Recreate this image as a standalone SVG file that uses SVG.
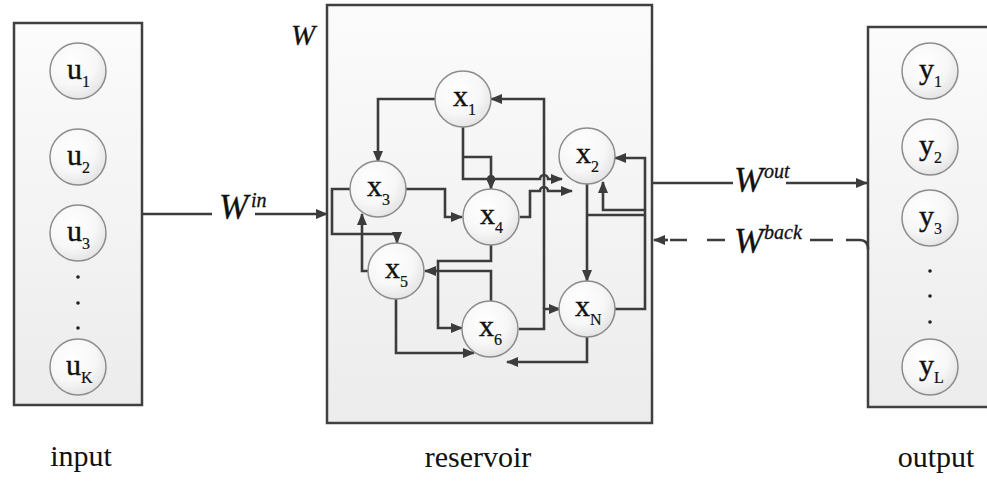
<svg xmlns="http://www.w3.org/2000/svg" width="987" height="499" viewBox="0 0 987 499">
<defs>
<linearGradient id="boxg" x1="0" y1="0" x2="0" y2="1">
<stop offset="0" stop-color="#fbfbfb"/>
<stop offset="1" stop-color="#ececec"/>
</linearGradient>
<radialGradient id="nodeg" cx="0.4" cy="0.35" r="0.7">
<stop offset="0" stop-color="#ffffff"/>
<stop offset="0.6" stop-color="#f7f7f7"/>
<stop offset="1" stop-color="#e2e2e2"/>
</radialGradient>
<marker id="ah" markerUnits="userSpaceOnUse" markerWidth="12" markerHeight="10" refX="11" refY="5" orient="auto">
<path d="M0,0 L12,5 L0,10 z" fill="#3c3c3c"/>
</marker>
</defs>
<style>
.box{fill:url(#boxg);stroke:#404040;stroke-width:2.5}
.node circle{fill:url(#nodeg);stroke:#8c8c8c;stroke-width:1.5}
.lbl{font-family:"Liberation Serif","Times New Roman",serif;font-size:30px;fill:#111;stroke:#111;stroke-width:0.4}
.sub{font-size:16px;stroke-width:0.2}
.w{font-family:"Liberation Serif","Times New Roman",serif;font-style:italic;font-size:35px;fill:#111;stroke:#111;stroke-width:0.3}
.sup{font-size:20px}
.cap{font-family:"Liberation Serif","Times New Roman",serif;font-size:30px;fill:#111;text-anchor:middle}
.c{fill:none;stroke:#3c3c3c;stroke-width:2.6}
.a{marker-end:url(#ah)}
.dot{fill:#222}
</style>
<rect width="987" height="499" fill="#ffffff"/>

<g id="input-layer">
<rect class="box" x="14" y="23" width="128" height="382"/>
<circle class="dot" cx="78" cy="277" r="1.8"/>
<circle class="dot" cx="78" cy="303" r="1.8"/>
<circle class="dot" cx="78" cy="328" r="1.8"/>
<text class="cap" x="81" y="466">input</text>
</g>
<g id="u1" class="node"><circle cx="78" cy="71" r="28"/><text class="lbl" x="67" y="79">u<tspan class="sub" dy="8">1</tspan></text></g>
<g id="u2" class="node"><circle cx="78" cy="157" r="28"/><text class="lbl" x="67" y="165">u<tspan class="sub" dy="8">2</tspan></text></g>
<g id="u3" class="node"><circle cx="78" cy="233" r="28"/><text class="lbl" x="67" y="241">u<tspan class="sub" dy="8">3</tspan></text></g>
<g id="uK" class="node"><circle cx="78" cy="367" r="28"/><text class="lbl" x="66" y="375">u<tspan class="sub" dy="8">K</tspan></text></g>

<g id="reservoir">
<rect class="box" x="327" y="5" width="325" height="418"/>
<text class="w" x="291" y="45" style="font-size:29px">W</text>
<text class="cap" x="478" y="467">reservoir</text>
</g>

<g id="output-layer">
<rect class="box" x="868" y="27" width="130" height="380"/>
<circle class="dot" cx="930" cy="271" r="1.8"/>
<circle class="dot" cx="930" cy="296" r="1.8"/>
<circle class="dot" cx="930" cy="322" r="1.8"/>
<text class="cap" x="936" y="467">output</text>
</g>
<g id="y1" class="node"><circle cx="930" cy="71" r="28"/><text class="lbl" x="919" y="79">y<tspan class="sub" dy="8">1</tspan></text></g>
<g id="y2" class="node"><circle cx="930" cy="147" r="28"/><text class="lbl" x="919" y="155">y<tspan class="sub" dy="8">2</tspan></text></g>
<g id="y3" class="node"><circle cx="930" cy="218" r="28"/><text class="lbl" x="919" y="226">y<tspan class="sub" dy="8">3</tspan></text></g>
<g id="yL" class="node"><circle cx="930" cy="367" r="28"/><text class="lbl" x="919" y="375">y<tspan class="sub" dy="8">L</tspan></text></g>

<g id="connectors">
<path class="c a" d="M435,99 H378 V162"/>
<path class="c a" d="M519,329 H544 V309 H560"/>
<path class="c a" d="M544,309 V99 H491"/>
<path class="c a" d="M463,127 V179 H540 a4,4 0 0 1 8,0 H562"/>
<path class="c a" d="M463,157 H491 V189"/>
<circle cx="491" cy="179" r="4" fill="#3c3c3c"/>
<path class="c a" d="M406,189 H445 V217 H462"/>
<path class="c a" d="M520,217 H530 V191 H540 a4,4 0 0 1 8,0 H572"/>
<path class="c a" d="M350,189 H332 V234 H397 V243"/>
<path class="c a" d="M368,271 H362 V214"/>
<path class="c a" d="M491,245 V261 H438 V328 H462"/>
<path class="c a" d="M491,301 V271 H425"/>
<path class="c a" d="M396,299 V353 H474"/>
<path class="c a" d="M587,337 V362 H507"/>
<path class="c a" d="M587,184 V281"/>
<path class="c a" d="M615,309 H645 V158 H615"/>
<path class="c" d="M587,215 H645"/>
<path class="c a" d="M645,210 H603 V182"/>
<path class="c" d="M142,214 H212"/>
<path class="c a" d="M255,214 H327"/>
<text class="w" x="219" y="219">W<tspan class="sup" x="251" y="207">in</tspan></text>
<path class="c" d="M652,183 H733"/>
<path class="c a" d="M786,183 H867"/>
<text class="w" x="734" y="192">W<tspan class="sup" x="764" y="178">out</tspan></text>
<path class="c" d="M868,249 Q868,240 860,240 H846 M833,240 H810 M725,240 H707 M687,240 H670"/>
<path class="c a" d="M668,240 H654"/>
<text class="w" x="734" y="253">W<tspan class="sup" x="764" y="239">back</tspan></text>
</g>

<g id="x1" class="node"><circle cx="463" cy="99" r="28"/><text class="lbl" x="453" y="106">x<tspan class="sub" dy="9">1</tspan></text></g>
<g id="x2" class="node"><circle cx="587" cy="156" r="28"/><text class="lbl" x="576" y="163">x<tspan class="sub" dy="9">2</tspan></text></g>
<g id="x3" class="node"><circle cx="378" cy="189" r="28"/><text class="lbl" x="367" y="196">x<tspan class="sub" dy="9">3</tspan></text></g>
<g id="x4" class="node"><circle cx="491" cy="217" r="28"/><text class="lbl" x="480" y="224">x<tspan class="sub" dy="9">4</tspan></text></g>
<g id="x5" class="node"><circle cx="396" cy="271" r="28"/><text class="lbl" x="385" y="278">x<tspan class="sub" dy="9">5</tspan></text></g>
<g id="x6" class="node"><circle cx="490" cy="329" r="28"/><text class="lbl" x="479" y="336">x<tspan class="sub" dy="9">6</tspan></text></g>
<g id="xN" class="node"><circle cx="587" cy="309" r="28"/><text class="lbl" x="575" y="316">x<tspan class="sub" dy="9">N</tspan></text></g>
</svg>
